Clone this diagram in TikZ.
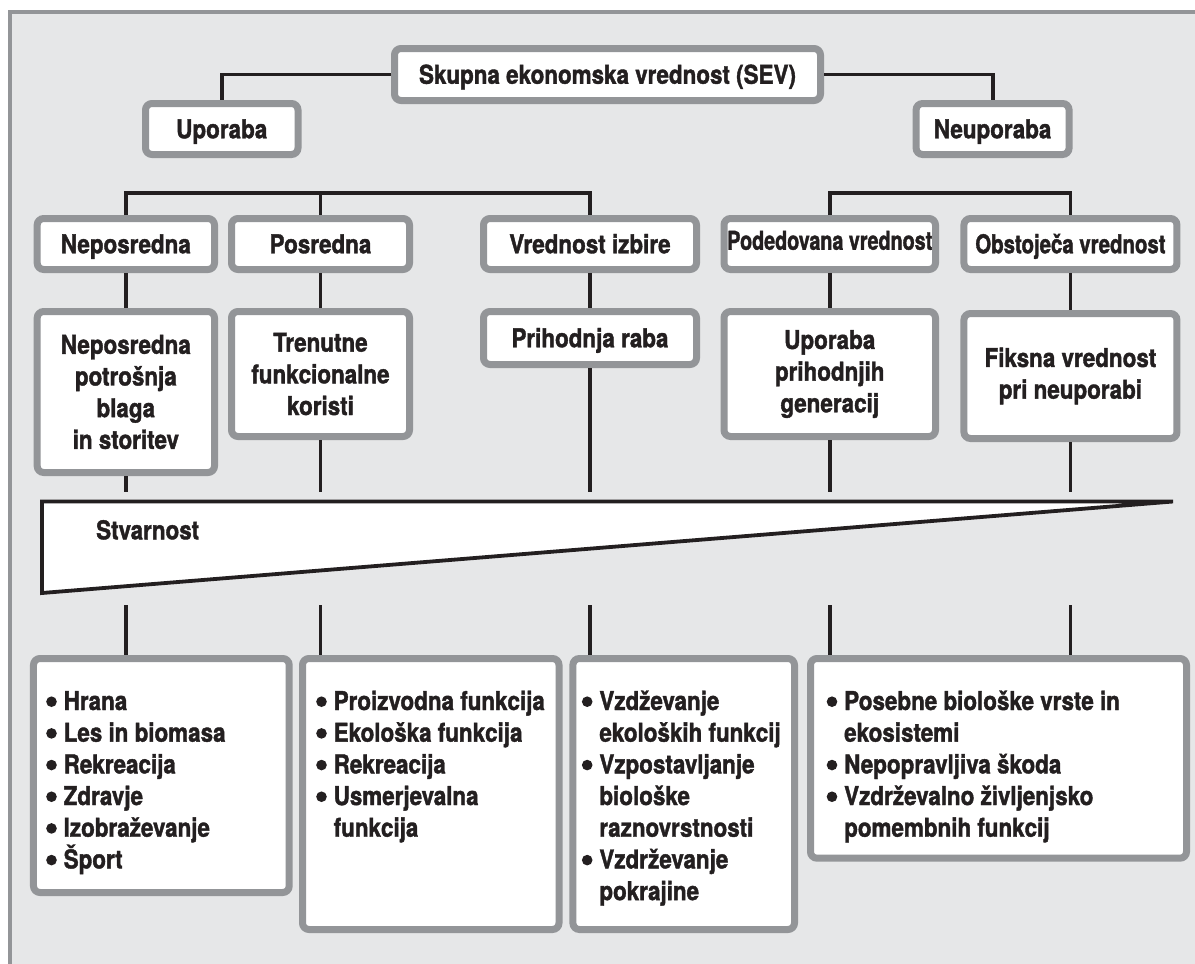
\documentclass[tikz,border=0pt]{standalone}
\usepackage{fontspec}
\usepackage{graphicx}
\setmainfont{TeX Gyre Heros}[FakeStretch=0.865, BoldFeatures={FakeBold=1.5}]

\definecolor{panelfill}{HTML}{E6E7E8}
\definecolor{framegray}{HTML}{939598}
\definecolor{ink}{HTML}{231F20}

% condensed bold type used for every label
\newcommand\dfont{\fontsize{26}{31.8}\selectfont\bfseries}
% list bullet and hanging indent for continuation lines
\newcommand\lbul{\makebox[17.5bp][l]{\tikz[x=1bp,y=1bp,baseline=0pt]\fill[ink] (5.3,8.3) circle (5.3);}}
\newcommand\lcont{\hspace*{17.5bp}}

\tikzset{
  box/.style={draw=framegray, line width=7bp, fill=white, rounded corners=6.5bp,
              inner sep=0pt, text=ink, font=\dfont},
  one/.style={text height=18.5bp, text depth=0bp},
  multi/.style={align=center},
  wire/.style={draw=ink, line width=3.8bp},
  listtext/.style={anchor=base west, inner sep=0pt, text=ink, font=\dfont},
}

\begin{document}
\begin{tikzpicture}[x=1bp,y=-1bp]
\useasboundingbox (0,0) rectangle (1195,964);

% grey panel
\draw[fill=panelfill, draw=framegray, line width=3.8bp] (9.8,12) rectangle (1215,990);

% top of the hierarchy
\node[box, one, minimum width=426bp, minimum height=52bp] (title) at (607.5,74.5) {Skupna ekonomska vrednost (SEV)};
\node[box, one, minimum width=152.5bp, minimum height=51bp] (upo) at (221.75,129) {Uporaba};
\node[box, one, minimum width=153bp, minimum height=51bp] (neupo) at (992.6,129) {Neuporaba};

% value types
\node[box, one, minimum width=177.3bp, minimum height=51bp] (nep) at (125.85,244) {Neposredna};
\node[box, one, minimum width=178bp, minimum height=51bp] (pos) at (320.5,244) {Posredna};
\node[box, one, minimum width=213bp, minimum height=51bp] (vi) at (590,244) {Vrednost izbire};
\node[box, one, text depth=7bp, minimum width=211.5bp, minimum height=51bp] (pod) at (829.75,244) {\scalebox{0.88}[1]{Podedovana vrednost}};
\node[box, one, minimum width=213bp, minimum height=51bp] (obs) at (1070.45,244) {\scalebox{0.91}[1]{Obstoječa vrednost}};

% descriptions
\node[box, multi, minimum width=177.3bp, minimum height=161bp] (nepd) at (125.85,392) {Neposredna\\potrošnja\\blaga\\in storitev};
\node[box, multi, minimum width=178bp, minimum height=125bp] (posd) at (320.5,374) {Trenutne\\funkcionalne\\koristi};
\node[box, one, minimum width=213bp, minimum height=53bp] (vid) at (590,338) {Prihodnja raba};
\node[box, multi, minimum width=211.5bp, minimum height=125bp] (podd) at (829.75,374) {Uporaba\\prihodnjih\\generacij};
\node[box, multi, minimum width=213bp, minimum height=125bp, yshift=-2bp] (obsd) at (1070.45,374) {Fiksna vrednost\\pri neuporabi};

% lists of examples
\node[box, minimum width=255.7bp, minimum height=234bp] (la) at (161.35,775.5) {};
\node[box, minimum width=256.5bp, minimum height=271bp] (lb) at (430.75,794) {};
\node[box, minimum width=221.6bp, minimum height=271bp] (lc) at (683.7,794) {};
\node[box, minimum width=376bp, minimum height=199.7bp] (ld) at (998.5,758.35) {};

\node[listtext] (ta) at (46,710) {\parbox[t]{240bp}{\raggedright
  \lbul Hrana\\
  \lbul Les in biomasa\\
  \lbul Rekreacija\\
  \lbul Zdravje\\
  \lbul Izobraževanje\\
  \lbul Šport}};
\node[listtext] (tb) at (316,710) {\parbox[t]{240bp}{\raggedright
  \lbul Proizvodna funkcija\\
  \lbul Ekološka funkcija\\
  \lbul Rekreacija\\
  \lbul Usmerjevalna\\
  \lcont funkcija}};
\node[listtext] (tc) at (581.7,710) {\parbox[t]{210bp}{\raggedright
  \lbul Vzdževanje\\
  \lcont ekoloških funkcij\\
  \lbul Vzpostavljanje\\
  \lcont biološke\\
  \lcont raznovrstnosti\\
  \lbul Vzdrževanje\\
  \lcont pokrajine}};
\node[listtext] (td) at (826.5,710) {\parbox[t]{350bp}{\raggedright
  \lbul Posebne biološke vrste in\\
  \lcont ekosistemi\\
  \lbul Nepopravljiva škoda\\
  \lbul Vzdrževalno življenjsko\\
  \lcont pomembnih funkcij}};

% the reality wedge
\draw[draw=ink, fill=white, line width=3.8bp] (42,501.5) -- (1173,501.5) -- (42,593) -- cycle;
\node[anchor=base west, inner sep=0pt, text=ink, font=\dfont] (stv) at (96,539.3) {Stvarnost};

% connectors
\draw[wire] (title.west) -| (upo.north);
\draw[wire] (title.east) -| (neupo.north);

\coordinate (bus) at (0,193.3);
\coordinate (wtop) at (0,492);
\coordinate (wbot) at (0,605);

\draw[wire] (nep.north) |- (vi.north |- bus) -- (vi.north);
\draw[wire] (pos.north) -- (pos.north |- bus);
\draw[wire] (pod.north) |- (obs.north |- bus) -- (obs.north);

\draw[wire] (nep.south) -- (nepd.north);
\draw[wire] (pos.south) -- (posd.north);
\draw[wire] (vi.south) -- (vid.north);
\draw[wire] (pod.south) -- (podd.north);
\draw[wire] (obs.south) -- (obsd.north);

\draw[wire] (nepd.south) -- (nepd.south |- wtop);
\draw[wire] (posd.south) -- (posd.south |- wtop);
\draw[wire] (vid.south) -- (vid.south |- wtop);
\draw[wire] (podd.south) -- (podd.south |- wtop);
\draw[wire] (obsd.south) -- (obsd.south |- wtop);

\draw[wire] (nepd.south |- wbot) -- (nepd.south |- la.north);
\draw[wire] (posd.south |- wbot) -- (posd.south |- lb.north);
\draw[wire] (vid.south |- wbot) -- (vid.south |- lc.north);
\draw[wire] (podd.south |- wbot) -- (podd.south |- ld.north);
\draw[wire] (obsd.south |- wbot) -- (obsd.south |- ld.north);
\end{tikzpicture}
\end{document}
